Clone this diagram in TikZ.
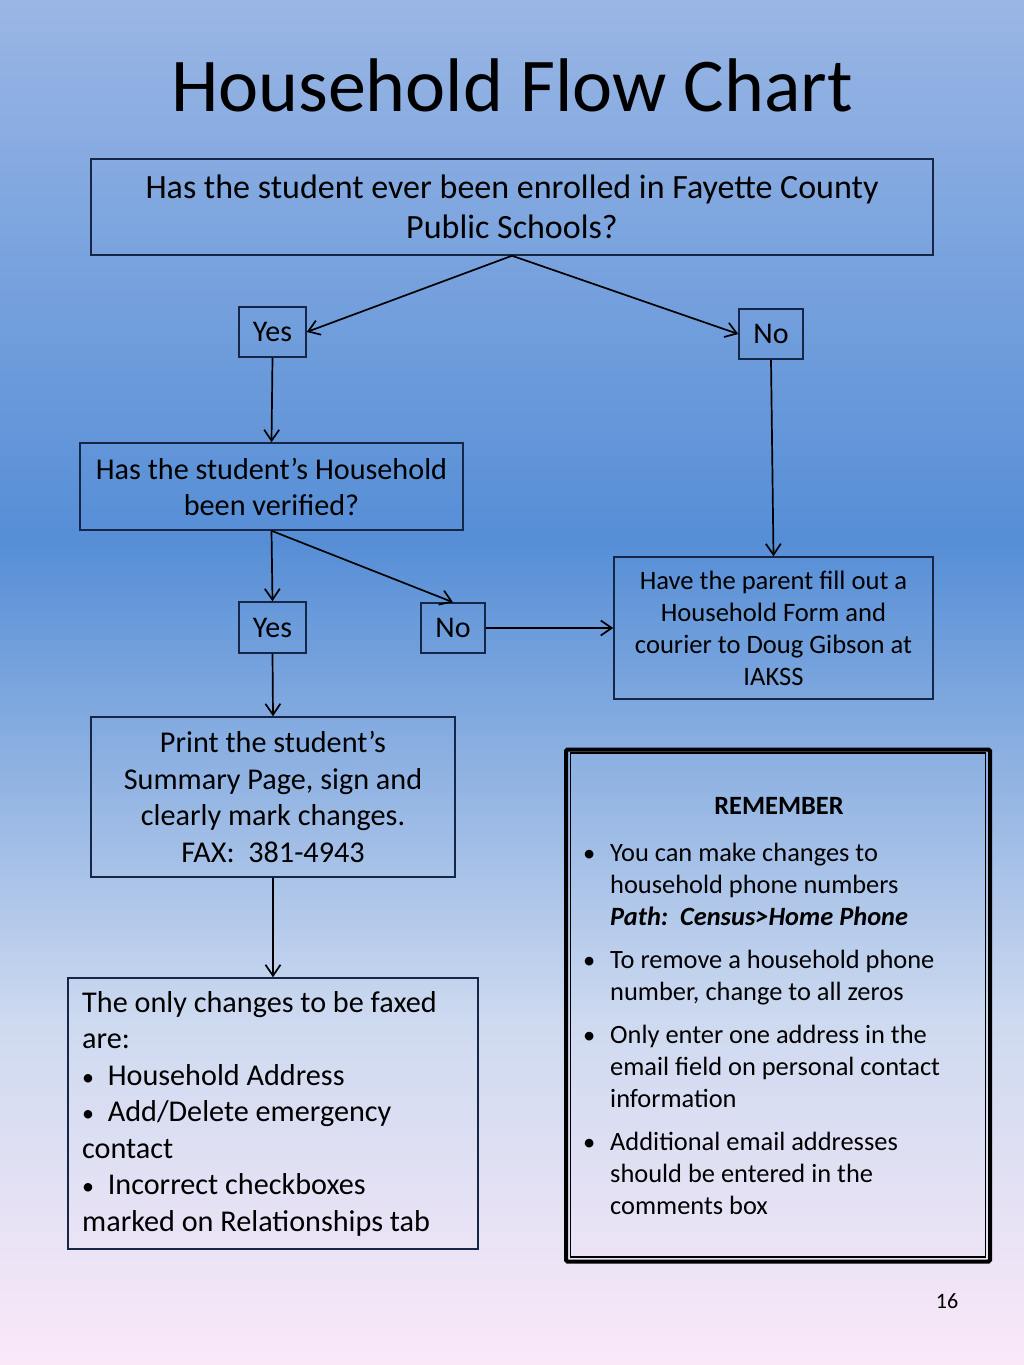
\documentclass[tikz,border=0pt]{standalone}
\usepackage{fontspec}
\setmainfont{Carlito}
\usetikzlibrary{arrows.meta}
\definecolor{bgtop}{RGB}{154,182,229}
\definecolor{bgmid}{RGB}{86,142,214}
\definecolor{bglow}{RGB}{206,218,240}
\definecolor{bgbot}{RGB}{250,232,248}
\definecolor{boxline}{RGB}{22,38,70}
\pgfdeclareverticalshading{slidebg}{100bp}{color(0bp)=(bgbot); color(25bp)=(bgbot); color(37.5bp)=(bglow); color(55.2bp)=(bgmid); color(75bp)=(bgtop); color(100bp)=(bgtop)}
\tikzset{
  flowbox/.style={draw=boxline, line width=1.5pt, inner sep=0pt, align=center},
  answer/.style={draw=boxline, line width=1.5pt, inner sep=0pt, font=\fontsize{30}{34}\selectfont},
  flowarrow/.style={-{Straight Barb[length=11pt,width=15pt,line width=1.7pt]}, line width=1.7pt, black},
  remtext/.style={anchor=base west, inner sep=0pt, font=\fontsize{26.4}{32}\selectfont},
  rembullet/.style={anchor=base west, inner sep=0pt, font=\fontsize{24.5}{32}\selectfont},
}
\begin{document}
\begin{tikzpicture}[x=1pt,y=-1pt]
\useasboundingbox (0,0) rectangle (1024,1365);
\shade[shading=slidebg] (0,0) rectangle (1024,1365);

% title
\node[inner sep=0pt, font=\fontsize{76}{90}\selectfont] (title) at (512,85) {Household Flow Chart};

% boxes
\node[flowbox, minimum width=842pt, minimum height=96pt, font=\fontsize{34}{40.5}\selectfont] (q1) at (512,207)
  {Has the student ever been enrolled in Fayette County\\Public Schools?};
\node[answer, minimum width=67pt, minimum height=50pt] (yes1) at (272.5,332) {Yes};
\node[answer, minimum width=64pt, minimum height=50pt] (no1) at (771,334) {No};
\node[flowbox, minimum width=383pt, minimum height=87pt, font=\fontsize{30.2}{36}\selectfont] (q2) at (271.5,486.5)
  {Has the student’s Household\\been verified?};
\node[flowbox, minimum width=319pt, minimum height=142pt, font=\fontsize{26.6}{32}\selectfont] (form) at (773.5,628)
  {Have the parent fill out a\\Household Form and\\courier to Doug Gibson at\\IAKSS};
\node[answer, minimum width=67pt, minimum height=51pt] (yes2) at (272.5,627.5) {Yes};
\node[answer, minimum width=64pt, minimum height=50pt] (no2) at (453,628) {No};
\node[flowbox, minimum width=364pt, minimum height=160pt, font=\fontsize{30.2}{36.5}\selectfont] (print) at (273,797)
  {Print the student’s\\Summary Page, sign and\\clearly mark changes.\\FAX:\ \ 381-4943};
\node[draw=boxline, line width=1.5pt, minimum width=410pt, minimum height=271pt, inner sep=0pt] (faxed) at (273,1113.5) {};
\node[anchor=west, inner sep=0pt, align=left, font=\fontsize{30.2}{36.5}\selectfont] (faxtext) at (82,1113.5)
  {The only changes to be faxed\\are:\\{\fontsize{24}{36.5}\selectfont\textbullet}\ \ Household Address\\{\fontsize{24}{36.5}\selectfont\textbullet}\ \ Add/Delete emergency\\contact\\{\fontsize{24}{36.5}\selectfont\textbullet}\ \ Incorrect checkboxes\\marked on Relationships tab};

% connectors
\coordinate (q1s) at (q1.south);
\draw[flowarrow] (q1s) -- (yes1.east);
\draw[flowarrow] (q1s) -- (no1.west);
\draw[flowarrow] (yes1.south) -- (q2.north);
\draw[flowarrow] (no1.south) -- (form.north);
\coordinate (q2s) at (q2.south);
\draw[flowarrow] (q2s) -- (yes2.north);
\draw[flowarrow] (q2s) -- (no2.north);
\draw[flowarrow] (no2.east) -- (no2.east -| form.west);
\draw[flowarrow] (yes2.south) -- (print.north);
\draw[flowarrow] (print.south) -- (faxed.north);

% remember box
\node[draw=black, line width=4pt, rounded corners=1.5pt, minimum width=424pt, minimum height=512pt, inner sep=0pt] (remember) at (778,1005.5) {};
\draw[line width=1.2pt] (570.5,753) rectangle (985.5,1257);
\node[inner sep=0pt, anchor=base, font=\fontsize{26.4}{32}\selectfont\bfseries] (remtitle) at (779,814) {REMEMBER};
\foreach \y in {861,968,1043,1150} { \node[rembullet] at (583,\y) {•}; }
\node[remtext] (r1) at (610,861) {You can make changes to};
\node[remtext] (r2) at (610,893) {household phone numbers};
\node[remtext] (r3) at (610,925) {\bfseries\itshape Path:\ \ Census>Home Phone};
\node[remtext] (r4) at (610,968) {To remove a household phone};
\node[remtext] (r5) at (610,1000) {number, change to all zeros};
\node[remtext] (r6) at (610,1043) {Only enter one address in the};
\node[remtext] (r7) at (610,1075) {email field on personal contact};
\node[remtext] (r8) at (610,1107) {information};
\node[remtext] (r9) at (610,1150) {Additional email addresses};
\node[remtext] (r10) at (610,1182) {should be entered in the};
\node[remtext] (r11) at (610,1214) {comments box};

% slide number
\node[inner sep=0pt, font=\fontsize{22}{24}\selectfont] (pagenum) at (947,1301) {16};
\end{tikzpicture}
\end{document}
